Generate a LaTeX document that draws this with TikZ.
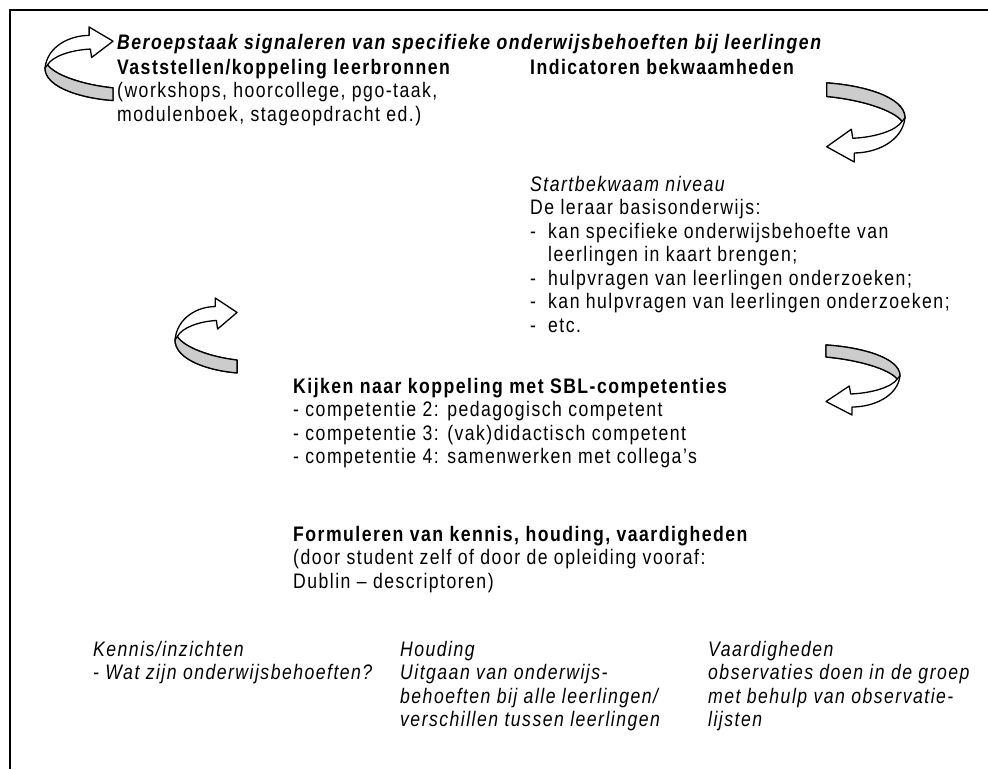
\documentclass[tikz,border=0pt]{standalone}
\usepackage{fontspec}
\setmainfont{Liberation Sans}[FakeStretch=0.84, LetterSpace=7]
\newcommand{\dashitem}{\makebox[18pt][l]{-}}
\tikzset{
  band/.style={draw=black, line width=1.3pt, line join=round},
  turnarrow/.pic={
    % white face with head
    \draw[band, fill=white] (54,70) .. controls (30,68) and (0,58) .. (0,39)
      .. controls (2,18) and (20,8) .. (35,8) -- (35,0) -- (54,13.5) -- (37,29) -- (36,21)
      .. controls (20,22) and (6,28) .. (2,36)
      .. controls (8,46) and (30,55) .. (54,58) -- cycle;
    % back face
    \draw[band, fill=black!20] (2,36) .. controls (8,46) and (30,55) .. (54,58)
      -- (54,70) .. controls (30,68) and (0,58) .. (0,39) -- cycle;
  }
}
\begin{document}
\begin{tikzpicture}[x=1pt, y=-1pt,
  every node/.style={font=\fontsize{21}{23.5}\selectfont},
  txt/.style={anchor=base west, inner sep=0pt, align=left},
  frame/.style={line width=1.8pt}]
\useasboundingbox (0,0) rectangle (988,769);
\draw[frame] (988,10) -- (10,10) -- (10,769);

% turning arrows
\pic[xscale=1.26, yscale=1.05] at (45,27) {turnarrow};
\pic[xscale=1.15, yscale=1.07] at (175,298) {turnarrow};
\pic[rotate=180, xscale=1.45, yscale=1.13] at (905,162) {turnarrow};
\pic[rotate=180, xscale=1.37, yscale=1.0] at (900,415) {turnarrow};

% top block (anchors sit on the last line)
\node[txt, font=\fontsize{21}{23.5}\selectfont\bfseries\itshape] (task) at (117,49)
  {Beroepstaak signaleren van specifieke onderwijsbehoeften bij leerlingen};
\node[txt] (sources) at (117,121)
  {\textbf{Vaststellen/koppeling leerbronnen}\\
   (workshops, hoorcollege, pgo-taak,\\
   modulenboek, stageopdracht ed.)};
\node[txt] (indic) at (530,74) {\textbf{Indicatoren bekwaamheden}};

% indicators
\node[txt] (level) at (530,332)
  {\textit{Startbekwaam niveau}\\
   De leraar basisonderwijs:\\
   \dashitem kan specifieke onderwijsbehoefte van\\
   \hphantom{\dashitem}leerlingen in kaart brengen;\\
   \dashitem hulpvragen van leerlingen onderzoeken;\\
   \dashitem kan hulpvragen van leerlingen onderzoeken;\\
   \dashitem etc.};

% competences
\node[txt] (sbl) at (293,463.5)
  {\textbf{Kijken naar koppeling met SBL-competenties}\\
   - competentie 2: pedagogisch competent\\
   - competentie 3: (vak)didactisch competent\\
   - competentie 4: samenwerken met collega’s};
\node[txt] (khv) at (293,588)
  {\textbf{Formuleren van kennis, houding, vaardigheden}\\
   (door student zelf of door de opleiding vooraf:\\
   Dublin – descriptoren)};

% three columns
\node[txt, font=\fontsize{21}{23.5}\selectfont\itshape] (kennis) at (93,679.5)
  {Kennis/inzichten\\
   - Wat zijn onderwijsbehoeften?};
\node[txt, font=\fontsize{21}{23.5}\selectfont\itshape] (houding) at (400,726.5)
  {Houding\\
   Uitgaan van onderwijs-\\
   behoeften bij alle leerlingen/\\
   verschillen tussen leerlingen};
\node[txt, font=\fontsize{21}{23.5}\selectfont\itshape] (vaard) at (708,726.5)
  {Vaardigheden\\
   observaties doen in de groep\\
   met behulp van observatie-\\
   lijsten};
\end{tikzpicture}
\end{document}
